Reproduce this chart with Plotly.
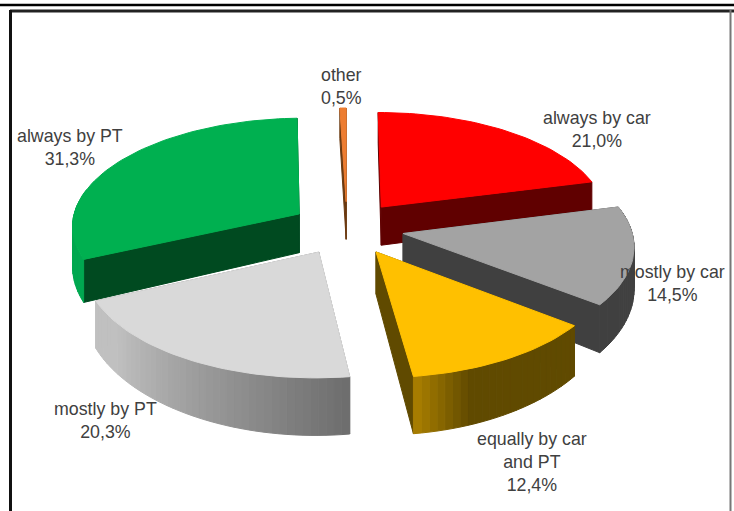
import math
import plotly.graph_objects as go

labels = ["always by car", "mostly by car", "equally by car<br>and PT", "mostly by PT", "always by PT", "other"]
value_text = ["21,0%", "14,5%", "12,4%", "20,3%", "31,3%", "0,5%"]
values = [21.0, 14.5, 12.4, 20.3, 31.3, 0.5]
top_colors = ["#FF0000", "#A3A3A3", "#FFC000", "#D9D9D9", "#00B050", "#ED7D31"]
cut_colors = ["#600000", "#404040", "#604A00", "#8A8A8A", "#004A20", "#6B3A10"]
rim_from = ["#600000", "#404040", "#604A00", "#6E6E6E", "#00A850", "#6B3A10"]
rim_to = ["#600000", "#404040", "#A67C00", "#C0C0C0", "#00A850", "#6B3A10"]
label_x = [597, 672, 532, 105, 70, 341]
label_y = [129, 283, 462, 420, 147, 86]

CX, CY = 347, 228
RX, RY = 228, 108
PULL = 0.25
PERSP = 0.10
DEPTH = 40
DEPTH_PERSP = 0.25
W, H = 734, 511
DRAW_ORDER = [5, 0, 4, 1, 3, 2]


def hex_mix(a, b, t):
    ca = [int(a[i:i + 2], 16) for i in (1, 3, 5)]
    cb = [int(b[i:i + 2], 16) for i in (1, 3, 5)]
    return "#%02x%02x%02x" % tuple(round(p + (q - p) * t) for p, q in zip(ca, cb))


def project(x, y, down):
    w = 1 / (1 + PERSP * y)
    return CX + RX * x * w, CY - RY * y * w + DEPTH * down / (1 + DEPTH_PERSP * y)


def poly(fig, pts, color):
    xs = [p[0] for p in pts] + [pts[0][0]]
    ys = [p[1] for p in pts] + [pts[0][1]]
    fig.add_trace(go.Scatter(x=xs, y=ys, mode="lines", fill="toself", fillcolor=color,
                             line=dict(color=color, width=1), hoverinfo="skip", showlegend=False))


fig = go.Figure()
total = sum(values)
angles = [0]
for v in values:
    angles.append(angles[-1] + v / total * 2 * math.pi)

for i in DRAW_ORDER:
    a0, a1 = angles[i], angles[i + 1]
    mid = (a0 + a1) / 2
    ox, oy = PULL * math.sin(mid), PULL * math.cos(mid)
    n = max(4, int((a1 - a0) / 0.03))
    arc = [a0 + (a1 - a0) * k / n for k in range(n + 1)]
    pt = lambda a, r, d: project(ox + r * math.sin(a), oy + r * math.cos(a), d)
    for a in (a0, a1):
        poly(fig, [pt(a, 0, 0), pt(a, 1, 0), pt(a, 1, 1), pt(a, 0, 1)], cut_colors[i])
    for k in range(n):
        t = (arc[k] + arc[k + 1]) / 2
        if math.cos(t) < 0.25:
            frac = k / max(n - 1, 1)
            if i == 2:
                frac = max(0, (frac - 0.72) / 0.28)
            if i == 3:
                frac = min(1, frac / 0.85)
            poly(fig, [pt(arc[k], 1, 0), pt(arc[k + 1], 1, 0), pt(arc[k + 1], 1, 1), pt(arc[k], 1, 1)],
                 hex_mix(rim_from[i], rim_to[i], frac))
    poly(fig, [pt(a0, 0, 0)] + [pt(a, 1, 0) for a in arc], top_colors[i])

annotations = [
    dict(x=x, y=y, xref="x", yref="y", text=f"{name}<br>{val}", showarrow=False, align="center",
         font=dict(family="Liberation Sans", size=17.8, color="#404040"))
    for name, val, x, y in zip(labels, value_text, label_x, label_y)
]

frame = [
    dict(type="line", x0=0, x1=W, y0=5, y1=5, line=dict(color="#000000", width=2.5)),
    dict(type="line", x0=10, x1=W, y0=11, y1=11, line=dict(color="#222222", width=3)),
    dict(type="line", x0=10.5, x1=10.5, y0=10, y1=H, line=dict(color="#111111", width=3)),
    dict(type="line", x0=730.5, x1=730.5, y0=10, y1=H, line=dict(color="#777777", width=2)),
]

fig.update_layout(
    width=W, height=H, margin=dict(l=0, r=0, t=0, b=0), autosize=False,
    paper_bgcolor="#FFFFFF", plot_bgcolor="#FFFFFF", showlegend=False,
    xaxis=dict(range=[0, W], visible=False, fixedrange=True),
    yaxis=dict(range=[H, 0], visible=False, fixedrange=True),
    annotations=annotations, shapes=frame,
)
fig.write_html("out.html", config=dict(displayModeBar=False),
               post_script="document.body.style.margin='0';document.documentElement.style.overflow='hidden';")
